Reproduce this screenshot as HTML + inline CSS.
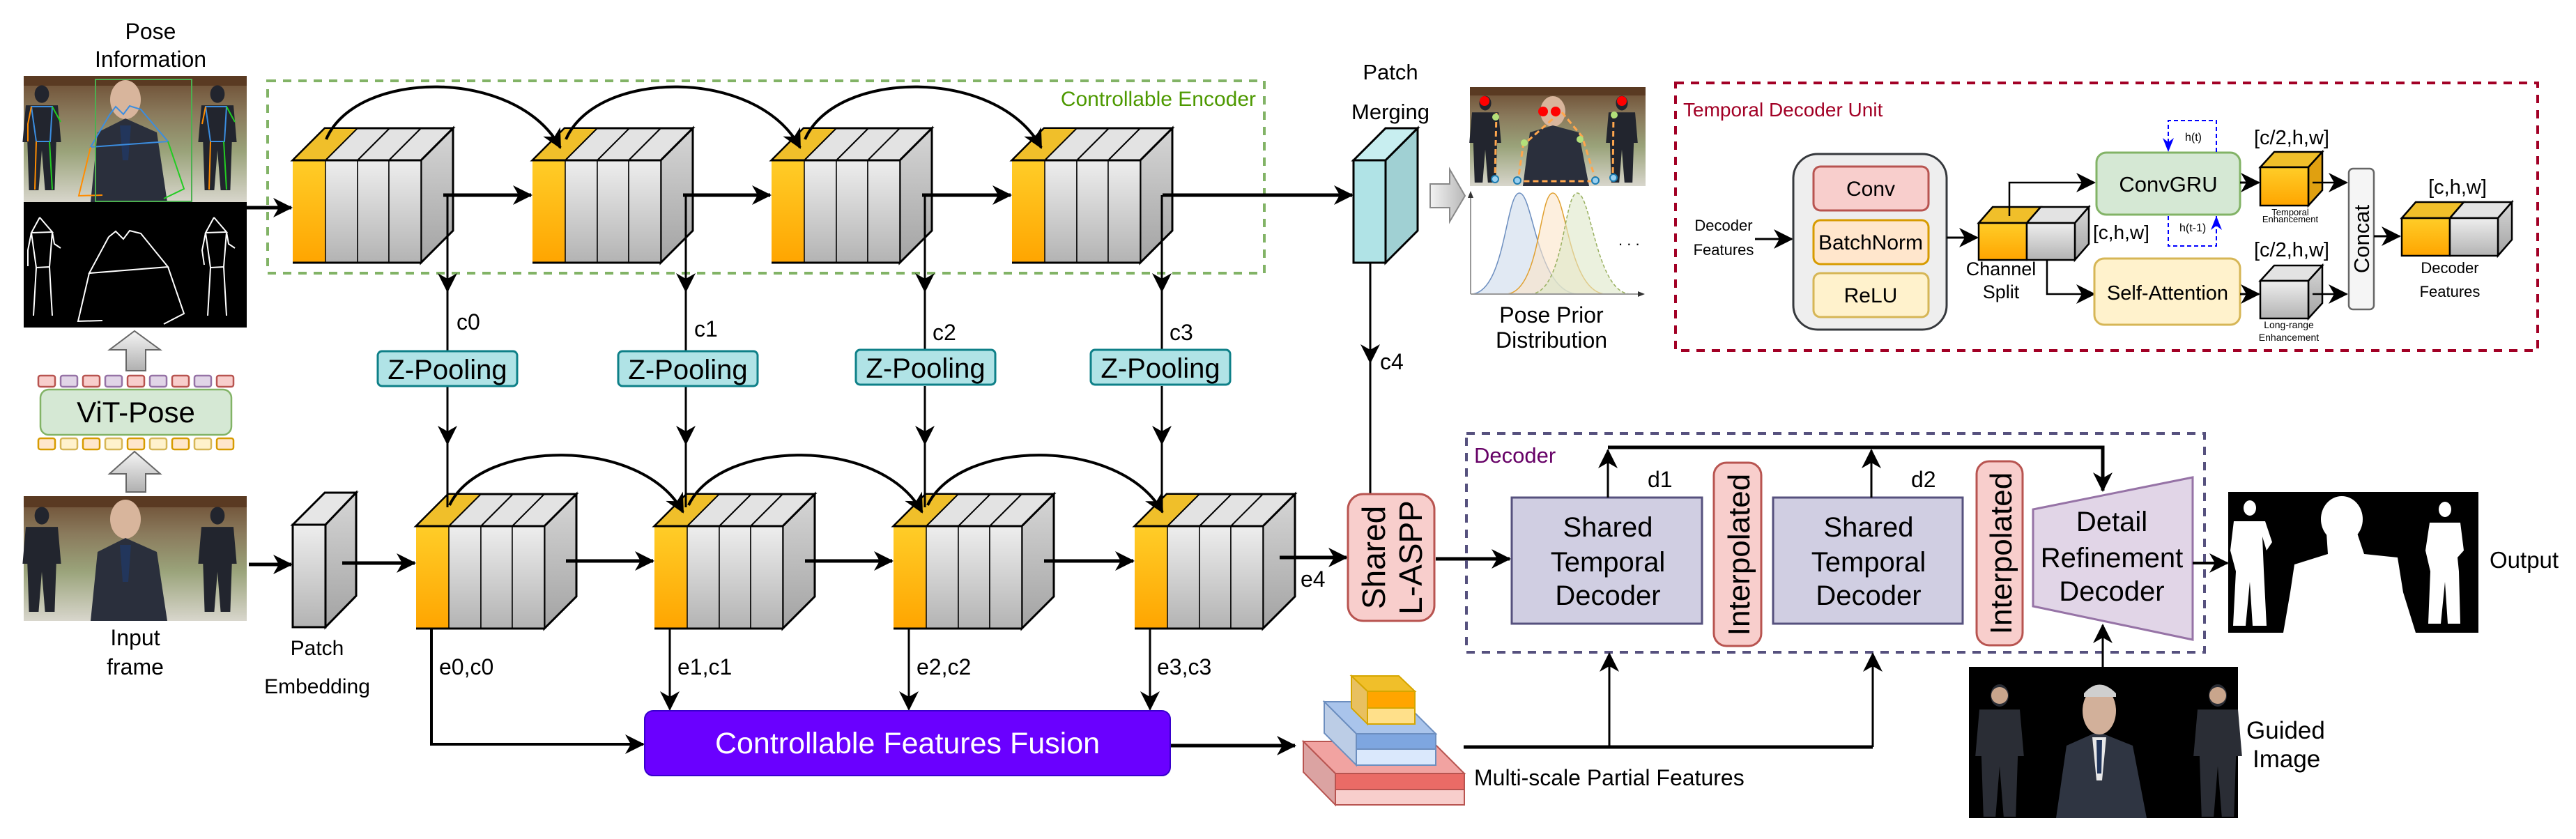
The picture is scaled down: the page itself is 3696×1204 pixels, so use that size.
<!DOCTYPE html>
<html><head><meta charset="utf-8"><style>
html,body{margin:0;padding:0;background:#fff;}
svg{display:block;}
text{font-family:"Liberation Sans",Arial,sans-serif;}
</style></head><body>
<svg width="3696" height="1204" viewBox="0 0 3696 1204" xmlns="http://www.w3.org/2000/svg">
<defs>
<linearGradient id="gor" x1="0" y1="0" x2="0" y2="1"><stop offset="0" stop-color="#ffcd28"/><stop offset="1" stop-color="#ffa500"/></linearGradient>
<linearGradient id="ggr" x1="0" y1="0" x2="0" y2="1"><stop offset="0" stop-color="#eeeeee"/><stop offset="1" stop-color="#b3b3b3"/></linearGradient>
<linearGradient id="gside" x1="0" y1="0" x2="0" y2="1"><stop offset="0" stop-color="#d6d6d6"/><stop offset="1" stop-color="#a3a3a3"/></linearGradient>
<linearGradient id="gphoto" x1="0" y1="0" x2="0" y2="1"><stop offset="0" stop-color="#6b4a30"/><stop offset="0.3" stop-color="#8a7a5c"/><stop offset="0.6" stop-color="#9aa37a"/><stop offset="1" stop-color="#d8d6cc"/></linearGradient>
<linearGradient id="garr" x1="0" y1="0" x2="1" y2="0"><stop offset="0" stop-color="#f2f2f2"/><stop offset="1" stop-color="#b8b8b8"/></linearGradient>
<linearGradient id="garrv" x1="0" y1="0" x2="0" y2="1"><stop offset="0" stop-color="#f5f5f5"/><stop offset="1" stop-color="#b0b0b0"/></linearGradient>
<marker id="ah" markerWidth="30" markerHeight="30" refX="26" refY="15" orient="auto" markerUnits="userSpaceOnUse"><path d="M0,1 L28,15 L0,29 L8,15z" fill="#000"/></marker>
<g id="cube">
  <polygon points="184,0 230,-46 230,101 184,147" fill="url(#gside)" stroke="#000" stroke-width="3"/>
  <polygon points="0,0 46,-46 230,-46 184,0" fill="#e3e3e3" stroke="#000" stroke-width="3"/>
  <polygon points="0,0 46,-46 93,-46 47,0" fill="#f0bf2a" stroke="#000" stroke-width="2"/>
  <line x1="93" y1="0" x2="139" y2="-46" stroke="#000" stroke-width="2"/>
  <line x1="138" y1="0" x2="184" y2="-46" stroke="#000" stroke-width="2"/>
  <rect x="0" y="0" width="47" height="147" fill="url(#gor)"/>
  <rect x="47" y="0" width="46" height="147" fill="url(#ggr)" stroke="#000" stroke-width="1.5"/>
  <rect x="93" y="0" width="45" height="147" fill="url(#ggr)" stroke="#000" stroke-width="1.5"/>
  <rect x="138" y="0" width="46" height="147" fill="url(#ggr)" stroke="#000" stroke-width="1.5"/>
  <line x1="0" y1="0" x2="184" y2="0" stroke="#000" stroke-width="3"/>
  <line x1="0" y1="147" x2="184" y2="147" stroke="#000" stroke-width="3"/>
</g>
<g id="fig">
  <ellipse cx="0" cy="0" rx="9" ry="11"/>
  <path d="M-20,14 L20,14 L24,60 L18,60 L16,120 L4,120 L0,70 L-4,120 L-16,120 L-18,60 L-24,60z"/>
</g>
</defs>

<text x="216" y="56" font-size="32" text-anchor="middle">Pose</text>
<text x="216" y="96" font-size="32" text-anchor="middle">Information</text>
<rect x="34" y="109" width="320" height="181" fill="url(#gphoto)"/>
<rect x="34" y="109" width="320" height="14" fill="#5a3a22"/>
<g fill="#22252e"><use href="#fig" transform="translate(60,135) scale(1.15)"/><use href="#fig" transform="translate(312,135) scale(1.15)"/></g>
<ellipse cx="180" cy="143" rx="22" ry="28" fill="#d8b59c"/>
<path d="M130,290 L140,190 L180,170 L225,190 L240,290z" fill="#2a2f3c"/>
<path d="M172,180 L188,180 L184,230 L176,230z" fill="#22365c"/>
<g fill="none" stroke-width="2">
<path d="M157,165 L166,153 L177,164 L186,152 L202,157 L241,203 L130,211 L157,165" stroke="#3b8de0"/>
<path d="M130,211 L113,281 L147,280" stroke="#ff8c00"/>
<path d="M241,203 L264,271 L235,285" stroke="#22cc22"/>
<rect x="137" y="114" width="138" height="175" stroke="#4caf50"/>
<path d="M45,153 L75,153 L72,203 L52,203z" stroke="#3b8de0"/>
<path d="M45,153 L40,178 L40,203 M52,203 L50,272" stroke="#ff8c00"/>
<path d="M75,153 L87,175 M71,203 L75,272" stroke="#22cc22"/>
<path d="M295,153 L325,153 L322,203 L302,203z" stroke="#3b8de0"/>
<path d="M295,153 L290,178 M302,203 L300,272" stroke="#ff8c00"/>
<path d="M325,153 L337,175 M321,203 L325,272" stroke="#22cc22"/>
</g>
<rect x="34" y="290" width="320" height="180" fill="#000"/>
<g fill="none" stroke="#fff" stroke-width="2">
<path d="M57,312 L45,334 L75,333 L57,312 M45,334 L40,359 L40,382 M75,333 L78,350 L87,356 M45,334 L52,384 L71,383 L75,333 M52,384 L50,419 L48,453 M71,383 L73,419 L75,453"/>
<path d="M307,312 L295,334 L325,333 L307,312 M295,334 L290,359 L293,380 M325,333 L328,350 L337,356 M295,334 L302,384 L321,383 L325,333 M302,384 L300,419 L298,453 M321,383 L323,419 L325,453"/>
<path d="M156,340 L166,332 L177,343 L186,331 L202,335 L241,383 L128,392 L156,340 M128,392 L112,461 L147,460 M241,383 L264,450 L235,465"/>
</g>

<polygon points="181,532 181,502 157,502 193,475 230,502 209,502 209,532" fill="url(#garrv)" stroke="#666" stroke-width="2"/>
<g stroke-width="2.5">
<rect x="55" y="539" width="24" height="16" rx="3" fill="#f8cecc" stroke="#b85450"/>
<rect x="87" y="539" width="24" height="16" rx="3" fill="#e1d5e7" stroke="#9673a6"/>
<rect x="119" y="539" width="24" height="16" rx="3" fill="#f8cecc" stroke="#b85450"/>
<rect x="151" y="539" width="24" height="16" rx="3" fill="#e1d5e7" stroke="#9673a6"/>
<rect x="183" y="539" width="24" height="16" rx="3" fill="#f8cecc" stroke="#b85450"/>
<rect x="215" y="539" width="24" height="16" rx="3" fill="#e1d5e7" stroke="#9673a6"/>
<rect x="247" y="539" width="24" height="16" rx="3" fill="#f8cecc" stroke="#b85450"/>
<rect x="279" y="539" width="24" height="16" rx="3" fill="#e1d5e7" stroke="#9673a6"/>
<rect x="311" y="539" width="24" height="16" rx="3" fill="#f8cecc" stroke="#b85450"/>
<rect x="55" y="629" width="24" height="16" rx="3" fill="#ffe6cc" stroke="#d79b00"/>
<rect x="87" y="629" width="24" height="16" rx="3" fill="#fff2cc" stroke="#d6b656"/>
<rect x="119" y="629" width="24" height="16" rx="3" fill="#ffe6cc" stroke="#d79b00"/>
<rect x="151" y="629" width="24" height="16" rx="3" fill="#fff2cc" stroke="#d6b656"/>
<rect x="183" y="629" width="24" height="16" rx="3" fill="#ffe6cc" stroke="#d79b00"/>
<rect x="215" y="629" width="24" height="16" rx="3" fill="#fff2cc" stroke="#d6b656"/>
<rect x="247" y="629" width="24" height="16" rx="3" fill="#ffe6cc" stroke="#d79b00"/>
<rect x="279" y="629" width="24" height="16" rx="3" fill="#fff2cc" stroke="#d6b656"/>
<rect x="311" y="629" width="24" height="16" rx="3" fill="#ffe6cc" stroke="#d79b00"/>
</g>
<rect x="58" y="559" width="274" height="65" rx="12" fill="#d5e8d4" stroke="#82b366" stroke-width="2.5"/>
<text x="195" y="606" font-size="42" text-anchor="middle">ViT-Pose</text>
<polygon points="181,706 181,680 157,680 193,648 230,680 209,680 209,706" fill="url(#garrv)" stroke="#666" stroke-width="2"/>

<rect x="34" y="712" width="320" height="179" fill="url(#gphoto)"/>
<rect x="34" y="712" width="320" height="16" fill="#5a3a22"/>
<g fill="#22252e"><use href="#fig" transform="translate(60,740) scale(1.15)"/><use href="#fig" transform="translate(312,740) scale(1.15)"/></g>
<ellipse cx="180" cy="745" rx="22" ry="28" fill="#d8b59c"/>
<path d="M130,891 L140,792 L180,772 L225,792 L240,891z" fill="#2a2f3c"/>
<path d="M172,782 L188,782 L184,835 L176,835z" fill="#22365c"/>
<text x="194" y="926" font-size="32" text-anchor="middle">Input</text>
<text x="194" y="968" font-size="32" text-anchor="middle">frame</text>

<polygon points="420,753 466,707 511,707 467,753" fill="#e6e6e6" stroke="#000" stroke-width="3"/>
<polygon points="467,753 511,707 511,855 467,900" fill="url(#gside)" stroke="#000" stroke-width="3"/>
<rect x="420" y="753" width="47" height="147" fill="url(#ggr)" stroke="#000" stroke-width="3"/>
<text x="455" y="940" font-size="30" text-anchor="middle">Patch</text>
<text x="455" y="995" font-size="30" text-anchor="middle">Embedding</text>

<rect x="384" y="116" width="1430" height="276" fill="none" stroke="#82b366" stroke-width="4" stroke-dasharray="12,10"/>
<text x="1802" y="152" font-size="30" fill="#4d9900" text-anchor="end">Controllable Encoder</text>

<use href="#cube" x="420" y="230"/>
<use href="#cube" x="764" y="230"/>
<use href="#cube" x="1107" y="230"/>
<use href="#cube" x="1452" y="230"/>
<use href="#cube" x="597" y="755"/>
<use href="#cube" x="939" y="755"/>
<use href="#cube" x="1282" y="755"/>
<use href="#cube" x="1628" y="755"/>

<g fill="none" stroke="#000">
<path d="M468,200 C510,100 740,95 804,212" stroke-width="4" marker-end="url(#ah)"/>
<path d="M812,200 C855,100 1085,95 1148,212" stroke-width="4" marker-end="url(#ah)"/>
<path d="M1155,200 C1198,100 1430,95 1494,212" stroke-width="4" marker-end="url(#ah)"/>
<path d="M645,725 C690,630 920,625 980,735" stroke-width="4" marker-end="url(#ah)"/>
<path d="M988,725 C1033,630 1263,625 1323,735" stroke-width="4" marker-end="url(#ah)"/>
<path d="M1331,725 C1376,630 1606,625 1668,735" stroke-width="4" marker-end="url(#ah)"/>
<line x1="354" y1="298" x2="418" y2="298" stroke-width="5" marker-end="url(#ah)"/>
<line x1="636" y1="280" x2="762" y2="280" stroke-width="5" marker-end="url(#ah)"/>
<line x1="980" y1="280" x2="1105" y2="280" stroke-width="5" marker-end="url(#ah)"/>
<line x1="1323" y1="280" x2="1450" y2="280" stroke-width="5" marker-end="url(#ah)"/>
<line x1="1668" y1="280" x2="1940" y2="280" stroke-width="5" marker-end="url(#ah)"/>
<line x1="357" y1="810" x2="418" y2="810" stroke-width="5" marker-end="url(#ah)"/>
<line x1="491" y1="808" x2="595" y2="808" stroke-width="5" marker-end="url(#ah)"/>
<line x1="812" y1="805" x2="937" y2="805" stroke-width="5" marker-end="url(#ah)"/>
<line x1="1155" y1="805" x2="1280" y2="805" stroke-width="5" marker-end="url(#ah)"/>
<line x1="1498" y1="805" x2="1626" y2="805" stroke-width="5" marker-end="url(#ah)"/>
<line x1="1836" y1="800" x2="1932" y2="800" stroke-width="5" marker-end="url(#ah)"/>
<line x1="642" y1="280" x2="642" y2="418" stroke-width="3" marker-end="url(#ah)"/><line x1="642" y1="410" x2="642" y2="504" stroke-width="3"/>
<line x1="984" y1="280" x2="984" y2="418" stroke-width="3" marker-end="url(#ah)"/><line x1="984" y1="410" x2="984" y2="504" stroke-width="3"/>
<line x1="1327" y1="280" x2="1327" y2="418" stroke-width="3" marker-end="url(#ah)"/><line x1="1327" y1="410" x2="1327" y2="502" stroke-width="3"/>
<line x1="1667" y1="280" x2="1667" y2="418" stroke-width="3" marker-end="url(#ah)"/><line x1="1667" y1="410" x2="1667" y2="502" stroke-width="3"/>
<line x1="642" y1="554" x2="642" y2="637" stroke-width="3" marker-end="url(#ah)"/><line x1="642" y1="630" x2="642" y2="728" stroke-width="3"/>
<line x1="984" y1="554" x2="984" y2="637" stroke-width="3" marker-end="url(#ah)"/><line x1="984" y1="630" x2="984" y2="728" stroke-width="3"/>
<line x1="1327" y1="554" x2="1327" y2="637" stroke-width="3" marker-end="url(#ah)"/><line x1="1327" y1="630" x2="1327" y2="728" stroke-width="3"/>
<line x1="1667" y1="554" x2="1667" y2="637" stroke-width="3" marker-end="url(#ah)"/><line x1="1667" y1="630" x2="1667" y2="728" stroke-width="3"/>
<polyline points="619,902 619,1068 923,1068" stroke-width="4" marker-end="url(#ah)"/>
<line x1="961" y1="902" x2="961" y2="1018" stroke-width="3" marker-end="url(#ah)"/>
<line x1="1304" y1="902" x2="1304" y2="1018" stroke-width="3" marker-end="url(#ah)"/>
<line x1="1650" y1="902" x2="1650" y2="1018" stroke-width="3" marker-end="url(#ah)"/>
<line x1="1679" y1="1070" x2="1858" y2="1070" stroke-width="5" marker-end="url(#ah)"/>
<line x1="1966" y1="377" x2="1966" y2="520" stroke-width="3" marker-end="url(#ah)"/><line x1="1966" y1="510" x2="1966" y2="709" stroke-width="3"/>
</g>
<g font-size="32">
<text x="655" y="473">c0</text><text x="996" y="483">c1</text><text x="1338" y="488">c2</text><text x="1678" y="488">c3</text>
<text x="630" y="968">e0,c0</text><text x="972" y="968">e1,c1</text><text x="1315" y="968">e2,c2</text><text x="1660" y="968">e3,c3</text>
<text x="1866" y="842">e4</text><text x="1980" y="530">c4</text>
</g>

<g fill="#b0e3e6" stroke="#0e8088" stroke-width="3">
<rect x="542" y="504" width="200" height="50" rx="6"/><rect x="887" y="504" width="200" height="50" rx="6"/>
<rect x="1228" y="502" width="200" height="50" rx="6"/><rect x="1565" y="502" width="200" height="50" rx="6"/>
</g>
<g font-size="40" text-anchor="middle">
<text x="642" y="544">Z-Pooling</text><text x="987" y="544">Z-Pooling</text><text x="1328" y="542">Z-Pooling</text><text x="1665" y="542">Z-Pooling</text>
</g>

<rect x="925" y="1020" width="754" height="93" rx="12" fill="#6a00ff" stroke="#3700cc" stroke-width="2"/>
<text x="1302" y="1081" font-size="43" fill="#fff" text-anchor="middle">Controllable Features Fusion</text>

<text x="1995" y="114" font-size="31" text-anchor="middle">Patch</text>
<text x="1995" y="171" font-size="31" text-anchor="middle">Merging</text>
<polygon points="1942,230 1988,184 2034,184 1988,230" fill="#c8eef0" stroke="#000" stroke-width="3"/>
<polygon points="1988,230 2034,184 2034,331 1988,377" fill="#a0d0d3" stroke="#000" stroke-width="3"/>
<rect x="1942" y="230" width="46" height="147" fill="#b0e3e6" stroke="#000" stroke-width="3"/>
<polygon points="2052,264 2080,264 2080,243 2102,281 2080,318 2080,298 2052,298" fill="url(#garr)" stroke="#888" stroke-width="2"/>

<rect x="2109" y="125" width="252" height="142" fill="url(#gphoto)"/>
<rect x="2109" y="125" width="252" height="12" fill="#5a3a22"/>
<g fill="#22252e"><use href="#fig" transform="translate(2131,148) scale(0.95)"/><use href="#fig" transform="translate(2327,148) scale(0.95)"/></g>
<ellipse cx="2228" cy="160" rx="18" ry="22" fill="#d8b59c"/>
<path d="M2185,267 L2195,190 L2228,180 L2265,190 L2280,267z" fill="#2a2f3c"/>
<g fill="none" stroke="#ffa64d" stroke-width="3" stroke-dasharray="8,5"><path d="M2147,162 L2145,254 M2186,204 L2178,260 L2290,260 L2270,196 L2240,160 L2190,204 M2315,162 L2314,255"/></g>
<g fill="#ff0000"><circle cx="2130" cy="145" r="7"/><circle cx="2214" cy="160" r="7"/><circle cx="2232" cy="160" r="7"/><circle cx="2327" cy="145" r="7"/></g>
<g fill="#b3e07a"><circle cx="2146" cy="168" r="5"/><circle cx="2187" cy="205" r="5"/><circle cx="2267" cy="200" r="5"/><circle cx="2316" cy="165" r="5"/></g>
<g fill="#9ad0f0" stroke="#1b7bb0" stroke-width="2"><circle cx="2145" cy="257" r="5"/><circle cx="2177" cy="259" r="5"/><circle cx="2289" cy="259" r="5"/><circle cx="2315" cy="255" r="5"/></g>
<path d="M2110,422 C2160,422 2160,277 2180,277 C2200,277 2205,422 2265,422z" fill="#dae3f0" fill-opacity="0.8" stroke="#6c8ebf" stroke-width="1.5"/>
<path d="M2160,422 C2210,422 2208,277 2228,277 C2248,277 2250,422 2305,422z" fill="#fbe5c8" fill-opacity="0.6" stroke="#e0a030" stroke-width="1.5"/>
<path d="M2195,422 C2245,422 2243,277 2263,277 C2283,277 2290,422 2340,422z" fill="#dde8c8" fill-opacity="0.6" stroke="#99b060" stroke-width="1.5" stroke-dasharray="5,3"/>
<line x1="2110" y1="422" x2="2110" y2="282" stroke="#999" stroke-width="2"/>
<path d="M2106,284 L2110,274 L2114,284z" fill="#333"/>
<line x1="2110" y1="422" x2="2352" y2="422" stroke="#999" stroke-width="2"/>
<path d="M2350,418 L2360,422 L2350,426z" fill="#333"/>
<text x="2322" y="352" font-size="22">. . .</text>
<text x="2226" y="463" font-size="32" text-anchor="middle">Pose Prior</text>
<text x="2226" y="499" font-size="32" text-anchor="middle">Distribution</text>

<rect x="2404" y="119" width="1237" height="384" fill="none" stroke="#a20025" stroke-width="4" stroke-dasharray="12,10"/>
<text x="2415" y="167" font-size="28" fill="#a20025">Temporal Decoder Unit</text>
<text x="2473" y="331" font-size="22" text-anchor="middle">Decoder</text>
<text x="2473" y="366" font-size="22" text-anchor="middle">Features</text>
<line x1="2518" y1="343" x2="2571" y2="343" stroke="#000" stroke-width="3" marker-end="url(#ah)"/>
<rect x="2573" y="221" width="220" height="252" rx="35" fill="#eeeeee" stroke="#36393d" stroke-width="3"/>
<rect x="2602" y="239" width="165" height="63" rx="10" fill="#f8cecc" stroke="#b85450" stroke-width="3"/>
<rect x="2602" y="316" width="165" height="63" rx="10" fill="#ffe6cc" stroke="#d79b00" stroke-width="3"/>
<rect x="2602" y="392" width="165" height="63" rx="10" fill="#fff2cc" stroke="#d6b656" stroke-width="3"/>
<text x="2684" y="281" font-size="30" text-anchor="middle">Conv</text>
<text x="2684" y="358" font-size="30" text-anchor="middle">BatchNorm</text>
<text x="2684" y="434" font-size="30" text-anchor="middle">ReLU</text>
<line x1="2793" y1="341" x2="2837" y2="341" stroke="#000" stroke-width="3" marker-end="url(#ah)"/>
<polygon points="2839,320 2859,297 2928,297 2908,320" fill="#f0bf2a" stroke="#000" stroke-width="2.5"/>
<polygon points="2908,320 2928,297 2997,297 2977,320" fill="#e3e3e3" stroke="#000" stroke-width="2.5"/>
<polygon points="2977,320 2997,297 2997,350 2977,373" fill="url(#gside)" stroke="#000" stroke-width="2.5"/>
<rect x="2839" y="320" width="69" height="53" fill="url(#gor)" stroke="#000" stroke-width="2.5"/>
<rect x="2908" y="320" width="69" height="53" fill="url(#ggr)" stroke="#000" stroke-width="2.5"/>
<text x="2871" y="395" font-size="27" text-anchor="middle">Channel</text>
<text x="2871" y="428" font-size="27" text-anchor="middle">Split</text>
<text x="3003" y="343" font-size="28">[c,h,w]</text>
<polyline points="2883,310 2883,262 3005,262" fill="none" stroke="#000" stroke-width="2.5" marker-end="url(#ah)"/>
<polyline points="2937,373 2937,422 3005,422" fill="none" stroke="#000" stroke-width="2.5" marker-end="url(#ah)"/>
<rect x="3008" y="219" width="206" height="89" rx="14" fill="#d5e8d4" stroke="#82b366" stroke-width="3"/>
<text x="3111" y="275" font-size="31" text-anchor="middle">ConvGRU</text>
<rect x="3005" y="371" width="209" height="95" rx="14" fill="#fff2cc" stroke="#d6b656" stroke-width="3"/>
<text x="3110" y="430" font-size="29" text-anchor="middle">Self-Attention</text>
<g fill="none" stroke="#0000ff" stroke-width="2" stroke-dasharray="6,4">
<polyline points="3180,218 3180,173 3111,173 3111,216"/>
<polyline points="3111,310 3111,353 3180,353 3180,310"/>
</g>
<path d="M3103,198 L3111,218 L3119,198 L3111,204z" fill="#0000ff"/>
<path d="M3172,330 L3180,310 L3188,330 L3180,324z" fill="#0000ff"/>
<text x="3135" y="202" font-size="16">h(t)</text>
<text x="3127" y="332" font-size="16">h(t-1)</text>
<line x1="3214" y1="262" x2="3241" y2="262" stroke="#000" stroke-width="3" marker-end="url(#ah)"/>
<line x1="3214" y1="422" x2="3241" y2="422" stroke="#000" stroke-width="3" marker-end="url(#ah)"/>
<polygon points="3243,240 3263,218 3332,218 3312,240" fill="#f0bf2a" stroke="#000" stroke-width="2.5"/>
<polygon points="3312,240 3332,218 3332,273 3312,295" fill="#e0a010" stroke="#000" stroke-width="2.5"/>
<rect x="3243" y="240" width="69" height="55" fill="url(#gor)" stroke="#000" stroke-width="2.5"/>
<polygon points="3243,403 3263,381 3332,381 3312,403" fill="#e3e3e3" stroke="#000" stroke-width="2.5"/>
<polygon points="3312,403 3332,381 3332,435 3312,457" fill="url(#gside)" stroke="#000" stroke-width="2.5"/>
<rect x="3243" y="403" width="69" height="54" fill="url(#ggr)" stroke="#000" stroke-width="2.5"/>
<text x="3288" y="207" font-size="29" text-anchor="middle">[c/2,h,w]</text>
<text x="3288" y="368" font-size="29" text-anchor="middle">[c/2,h,w]</text>
<text x="3286" y="309" font-size="13" text-anchor="middle">Temporal</text>
<text x="3286" y="319" font-size="13" text-anchor="middle">Enhancement</text>
<text x="3284" y="471" font-size="14" text-anchor="middle">Long-range</text>
<text x="3284" y="489" font-size="14" text-anchor="middle">Enhancement</text>
<line x1="3318" y1="262" x2="3367" y2="262" stroke="#000" stroke-width="2.5" marker-end="url(#ah)"/>
<line x1="3318" y1="422" x2="3367" y2="422" stroke="#000" stroke-width="2.5" marker-end="url(#ah)"/>
<rect x="3370" y="242" width="36" height="202" rx="6" fill="#f5f5f5" stroke="#666" stroke-width="2.5"/>
<text transform="translate(3399,343) rotate(-90)" font-size="31" text-anchor="middle">Concat</text>
<line x1="3406" y1="339" x2="3443" y2="339" stroke="#000" stroke-width="3" marker-end="url(#ah)"/>
<polygon points="3446,313 3466,290 3535,290 3515,313" fill="#f0bf2a" stroke="#000" stroke-width="2.5"/>
<polygon points="3515,313 3535,290 3604,290 3584,313" fill="#e3e3e3" stroke="#000" stroke-width="2.5"/>
<polygon points="3584,313 3604,290 3604,344 3584,367" fill="url(#gside)" stroke="#000" stroke-width="2.5"/>
<rect x="3446" y="313" width="69" height="54" fill="url(#gor)" stroke="#000" stroke-width="2.5"/>
<rect x="3515" y="313" width="69" height="54" fill="url(#ggr)" stroke="#000" stroke-width="2.5"/>
<text x="3526" y="278" font-size="29" text-anchor="middle">[c,h,w]</text>
<text x="3515" y="392" font-size="22" text-anchor="middle">Decoder</text>
<text x="3515" y="426" font-size="22" text-anchor="middle">Features</text>

<rect x="1934" y="709" width="124" height="182" rx="22" fill="#f8cecc" stroke="#b85450" stroke-width="3"/>
<text transform="translate(1987,800) rotate(-90)" font-size="46" text-anchor="middle">Shared</text>
<text transform="translate(2040,800) rotate(-90)" font-size="46" text-anchor="middle">L-ASPP</text>
<line x1="2060" y1="802" x2="2166" y2="802" stroke="#000" stroke-width="5" marker-end="url(#ah)"/>

<rect x="2104" y="622" width="1059" height="314" fill="none" stroke="#56517e" stroke-width="4" stroke-dasharray="12,10"/>
<text x="2115" y="664" font-size="31" fill="#660066">Decoder</text>
<rect x="2169" y="714" width="273" height="181" fill="#d0cee2" stroke="#56517e" stroke-width="3"/>
<rect x="2544" y="714" width="272" height="181" fill="#d0cee2" stroke="#56517e" stroke-width="3"/>
<g font-size="40" text-anchor="middle">
<text x="2307" y="770">Shared</text><text x="2307" y="820">Temporal</text><text x="2307" y="868">Decoder</text>
<text x="2681" y="770">Shared</text><text x="2681" y="820">Temporal</text><text x="2681" y="868">Decoder</text>
</g>
<rect x="2459" y="664" width="68" height="263" rx="18" fill="#f8cecc" stroke="#b85450" stroke-width="3"/>
<rect x="2836" y="662" width="66" height="264" rx="18" fill="#f8cecc" stroke="#b85450" stroke-width="3"/>
<text transform="translate(2510,796) rotate(-90)" font-size="44" text-anchor="middle">Interpolated</text>
<text transform="translate(2886,794) rotate(-90)" font-size="44" text-anchor="middle">Interpolated</text>
<polygon points="2917,731 3146,685 3146,918 2917,870" fill="#e1d5e7" stroke="#9673a6" stroke-width="3"/>
<g font-size="40" text-anchor="middle"><text x="3030" y="762">Detail</text><text x="3030" y="814">Refinement</text><text x="3030" y="862">Decoder</text></g>
<g fill="none" stroke="#000">
<line x1="2307" y1="714" x2="2307" y2="646" stroke-width="3" marker-end="url(#ah)"/>
<line x1="2685" y1="714" x2="2685" y2="646" stroke-width="3" marker-end="url(#ah)"/>
<polyline points="2307,642 3017,642 3017,704" stroke-width="5" marker-end="url(#ah)"/>
<line x1="3146" y1="808" x2="3196" y2="808" stroke-width="4" marker-end="url(#ah)"/>
<line x1="3017" y1="957" x2="3017" y2="897" stroke-width="3" marker-end="url(#ah)"/>
<polyline points="2100,1072 2687,1072" stroke-width="5"/>
<line x1="2309" y1="1072" x2="2309" y2="938" stroke-width="3" marker-end="url(#ah)"/>
<line x1="2687" y1="1072" x2="2687" y2="938" stroke-width="3" marker-end="url(#ah)"/>
</g>
<text x="2364" y="699" font-size="32">d1</text>
<text x="2742" y="699" font-size="32">d2</text>

<rect x="3197" y="706" width="359" height="202" fill="#000"/>
<g fill="#fff">
<ellipse cx="3360" cy="745" rx="30" ry="33"/>
<path d="M3338,765 L3382,765 L3392,795 L3440,800 L3448,850 L3466,908 L3276,908 L3286,850 L3292,810 L3340,795z"/>
<ellipse cx="3228" cy="729" rx="9" ry="11"/>
<path d="M3205,748 L3250,748 L3260,778 L3252,790 L3246,770 L3248,818 L3252,898 L3232,898 L3228,835 L3222,898 L3204,898 L3208,820 L3200,790z"/>
<ellipse cx="3508" cy="731" rx="9" ry="11"/>
<path d="M3486,750 L3530,750 L3535,790 L3526,800 L3528,820 L3530,895 L3512,895 L3508,835 L3502,895 L3484,895 L3487,820 L3480,790z"/>
</g>
<text x="3572" y="815" font-size="33">Output</text>

<rect x="2825" y="957" width="386" height="217" fill="#000"/>
<g fill="#2a2d35"><use href="#fig" transform="translate(2869,998) scale(1.45)"/><use href="#fig" transform="translate(3182,998) scale(1.45)"/></g>
<circle cx="2869" cy="998" r="12" fill="#c9a58c"/><circle cx="3182" cy="998" r="12" fill="#c9a58c"/>
<path d="M2950,1174 L2965,1070 L3010,1050 L3060,1070 L3080,1174z" fill="#2f3542"/>
<ellipse cx="3012" cy="1020" rx="24" ry="34" fill="#d2b09a"/>
<path d="M2990,995 Q3012,970 3036,995 L3036,1000 L2990,1000z" fill="#cfcfcf"/>
<path d="M3002,1058 L3022,1058 L3016,1120 L3008,1120z" fill="#e8e8e8"/>
<path d="M3008,1062 L3016,1062 L3015,1110 L3009,1110z" fill="#22365c"/>
<text x="3223" y="1060" font-size="35">Guided</text>
<text x="3232" y="1101" font-size="35">Image</text>

<polygon points="1870,1064 2055,1064 2101,1110 1916,1110" fill="#f1a3a1" stroke="#b85450" stroke-width="2"/>
<polygon points="1870,1064 1916,1110 1916,1155 1870,1108" fill="#dba3a2" stroke="#b85450" stroke-width="2"/>
<rect x="1916" y="1110" width="185" height="23" fill="#ea6b66" stroke="#b85450" stroke-width="2"/>
<rect x="1916" y="1133" width="185" height="22" fill="#f8cecc" stroke="#b85450" stroke-width="2"/>
<polygon points="1900,1007 2014,1007 2060,1053 1946,1053" fill="#a9c4eb" stroke="#6c8ebf" stroke-width="2"/>
<polygon points="1900,1007 1946,1053 1946,1098 1900,1052" fill="#bccde6" stroke="#6c8ebf" stroke-width="2"/>
<rect x="1946" y="1053" width="114" height="22" fill="#7ea6e0" stroke="#6c8ebf" stroke-width="2"/>
<rect x="1946" y="1075" width="114" height="23" fill="#dae8fc" stroke="#6c8ebf" stroke-width="2"/>
<polygon points="1939,970 2007,970 2030,992 1962,992" fill="#f0bf2a" stroke="#d6a600" stroke-width="2"/>
<polygon points="1939,970 1962,992 1962,1039 1939,1016" fill="#e8c060" stroke="#d6a600" stroke-width="2"/>
<rect x="1962" y="992" width="68" height="24" fill="#ffa500" stroke="#d6a600" stroke-width="2"/>
<rect x="1962" y="1016" width="68" height="23" fill="#ffe08a" stroke="#d6a600" stroke-width="2"/>
<text x="2115" y="1127" font-size="32">Multi-scale Partial Features</text>
</svg>
</body></html>
